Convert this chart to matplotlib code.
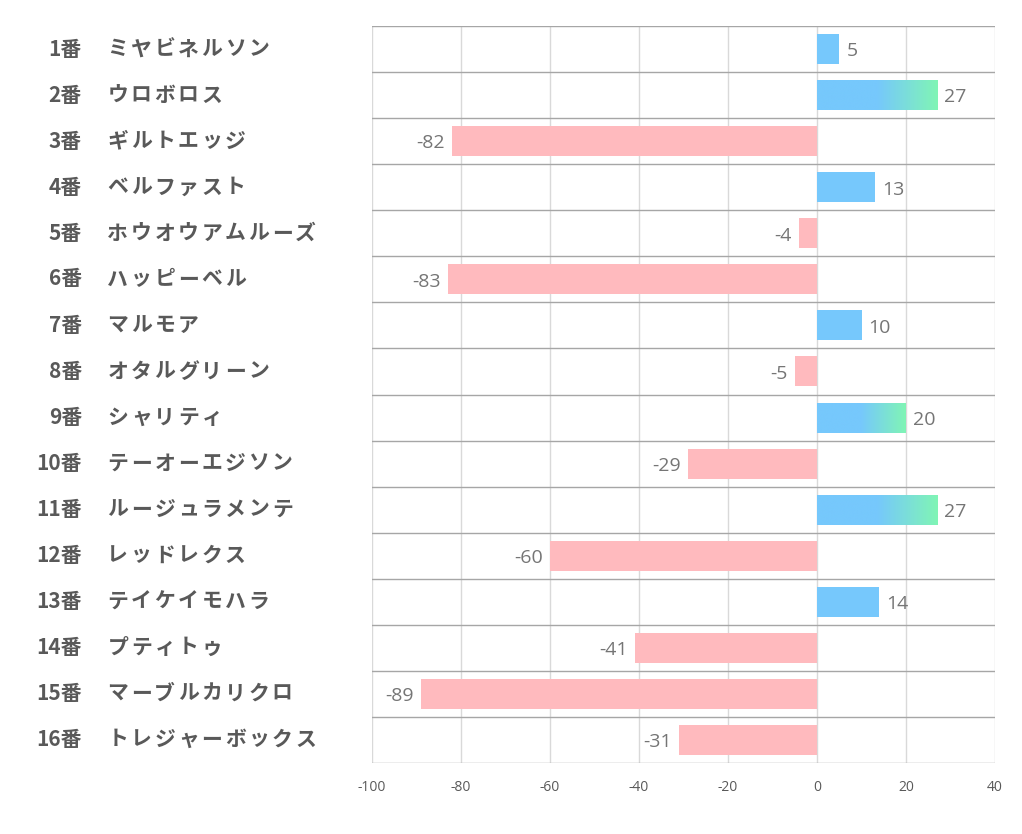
import numpy as np
import matplotlib
matplotlib.use("Agg")
import matplotlib.pyplot as plt
from matplotlib.colors import LinearSegmentedColormap

plt.rcParams['font.family'] = ['Noto Sans CJK JP', 'DejaVu Sans']

numbers = ["1番", "2番", "3番", "4番", "5番", "6番", "7番", "8番",
           "9番", "10番", "11番", "12番", "13番", "14番", "15番", "16番"]
names = ["ミヤビネルソン", "ウロボロス", "ギルトエッジ", "ベルファスト",
         "ホウオウアムルーズ", "ハッピーベル", "マルモア", "オタルグリーン",
         "シャリティ", "テーオーエジソン", "ルージュラメンテ", "レッドレクス",
         "テイケイモハラ", "プティトゥ", "マーブルカリクロ", "トレジャーボックス"]
values = [5, 27, -82, 13, -4, -83, 10, -5, 20, -29, 27, -60, 14, -41, -89, -31]
xticks = [-100, -80, -60, -40, -20, 0, 20, 40]

blue = "#76c8fc"
green = "#80f5b5"
pink = "#ffbabe"
grad = LinearSegmentedColormap.from_list("g", [(0, blue), (0.5, blue), (1, green)])

fig = plt.figure(figsize=(10.22, 8.34), dpi=100)
ax = fig.add_axes([372 / 1022, 1 - 763 / 834, 623 / 1022, 737 / 834])

n = len(values)
ypos = np.arange(n)
h = 0.65
ax.set_xlim(-100, 40)
ax.set_ylim(n - 0.5, -0.5)

for x in xticks:
    ax.axvline(x, color="#d9d9d9", lw=1, zorder=0)
for b in range(n + 1):
    ax.axhline(b - 0.5, color="#a6a6a6", lw=1, zorder=1)

for y, v in zip(ypos, values):
    if v >= 20:
        g = np.linspace(0, 1, 256).reshape(1, -1)
        ax.imshow(g, cmap=grad, aspect="auto", extent=(0, v, y + h / 2, y - h / 2),
                  zorder=2, interpolation="bilinear")
    else:
        ax.barh(y, v, height=h, color=blue if v > 0 else pink, zorder=2)
    if v > 0:
        ax.text(v + 1.6, y + 0.05, str(v), ha="left", va="center", fontsize=14,
                color="#757575", family=["Open Sans", "DejaVu Sans"])
    else:
        ax.text(v - 1.6, y + 0.05, str(v), ha="right", va="center", fontsize=14,
                color="#757575", family=["Open Sans", "DejaVu Sans"])

ax.set_xlim(-100, 40)
ax.set_ylim(n - 0.5, -0.5)

for s in ax.spines.values():
    s.set_visible(False)
ax.set_yticks([])
ax.set_xticks(xticks)
ax.set_xticklabels([str(x) for x in xticks], fontsize=10, color="#595959",
                   family=["Open Sans", "DejaVu Sans"])
ax.tick_params(axis="x", length=0, pad=12)

# row labels: number right-aligned, name left-aligned with wide letter spacing
char_w = 23.5
for y, num, name in zip(ypos, numbers, names):
    yc = 1 - (26 + 46 * y + 23) / 834
    fig.text(82 / 1022, yc, num, ha="right", va="center",
             fontsize=15, fontweight="bold", color="#595959")
    for k, ch in enumerate(name):
        fig.text((106 + char_w * k + char_w / 2) / 1022, yc, ch, ha="center",
                 va="center", fontsize=15, fontweight="bold", color="#595959")

fig.savefig("out.png", dpi=100, facecolor="white")
